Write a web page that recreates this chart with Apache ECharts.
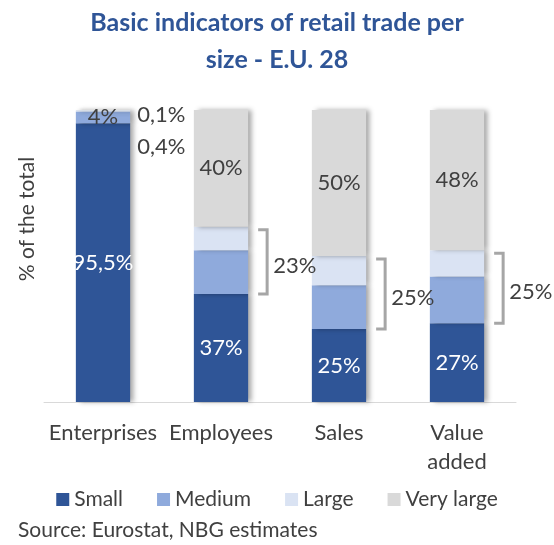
<!DOCTYPE html>
<html>
<head>
<meta charset="utf-8">
<script src="https://cdn.jsdelivr.net/npm/echarts@6/dist/echarts.min.js"></script>
<style>html,body{margin:0;padding:0;background:#fff;}#c{width:554px;height:545px;}</style>
</head>
<body>
<div id="c"></div>
<script>
const categories = ['Enterprises', 'Employees', 'Sales', 'Value\nadded'];
const seriesNames = ['Small', 'Medium', 'Large', 'Very large'];
const small = [95.5, 37, 25, 27];
const medium = [4, 15, 15, 16];
const large = [0.4, 8, 10, 9];
const veryLarge = [0.1, 40, 50, 48];
const bracketCats = [1, 2, 3];

const FONT = 'Lato';
const TXT = '#404040';
const colors = ['#2F5597', '#8FAADC', '#DAE3F3', '#D9D9D9'];
const fmt = v => String(v).replace('.', ',') + '%';

const chart = echarts.init(document.getElementById('c'), null, {renderer: 'canvas'});

const shadow = {shadowColor: 'rgba(0,0,0,0.35)', shadowBlur: 5, shadowOffsetX: 4, shadowOffsetY: 0};
function barSeries(name, data, color, labelFn) {
  return {
    name, type: 'bar', stack: 'total', barWidth: '46%',
    itemStyle: Object.assign({color}, shadow),
    label: {show: false, fontFamily: FONT, fontSize: 22, color: TXT, formatter: p => fmt(p.value)},
    data: data.map(labelFn),
    emphasis: {disabled: true}
  };
}

const option = {
  animation: false,
  textStyle: {fontFamily: FONT},
  title: {
    text: 'Basic indicators of retail trade per\nsize - E.U. 28',
    left: 'center', top: -1,
    textStyle: {fontFamily: FONT, fontWeight: 'bold', fontSize: 25, lineHeight: 37, color: '#2F5597'}
  },
  grid: {left: 44, right: 38, top: 110, bottom: 143, containLabel: false},
  legend: {
    data: seriesNames, left: 'center', top: 484,
    icon: 'rect', itemWidth: 13, itemHeight: 13, itemGap: 34,
    textStyle: {fontFamily: FONT, fontSize: 21, color: TXT}
  },
  xAxis: {
    type: 'category', data: categories,
    axisLine: {lineStyle: {color: '#D9D9D9', width: 1}},
    axisTick: {show: false},
    axisLabel: {interval: 0, fontFamily: FONT, fontSize: 22, color: TXT, lineHeight: 29, margin: 16}
  },
  yAxis: {
    type: 'value', min: 0, max: 100,
    axisLine: {show: false}, axisTick: {show: false}, axisLabel: {show: false}, splitLine: {show: false}
  },
  graphic: [
    {type: 'text', x: 27, y: 219, rotation: Math.PI / 2,
     style: {text: '% of the total', fontFamily: FONT, fontSize: 21, fill: TXT, align: 'center', verticalAlign: 'middle'}},
    {type: 'text', left: 18, top: 520,
     style: {text: 'Source: Eurostat, NBG estimates', fontFamily: FONT, fontSize: 21, fill: TXT}}
  ],
  series: [
    barSeries('Small', small, colors[0], v => ({value: v, label: {show: true, position: 'inside', color: '#FFFFFF'}})),
    barSeries('Medium', medium, colors[1], (v, i) => i === 0 ? {value: v, label: {show: true, position: 'inside'}} : v),
    barSeries('Large', large, colors[2], (v, i) => i === 0 ? {value: v, label: {show: true, position: 'right', distance: 7, offset: [0, 36]}} : v),
    barSeries('Very large', veryLarge, colors[3], (v, i) => i === 0
      ? {value: v, label: {show: true, position: 'right', distance: 7, offset: [0, 5]}}
      : {value: v, label: {show: true, position: 'inside'}}),
    {
      type: 'custom', name: 'bracket', z: 10, silent: true,
      data: bracketCats.map(i => [i, small[i], small[i] + medium[i] + large[i], medium[i] + large[i]]),
      renderItem: function (params, api) {
        const i = api.value(0);
        const top = api.coord([i, api.value(2)]);
        const bot = api.coord([i, api.value(1)]);
        const band = api.size([1, 0])[0];
        const x = top[0] + band * 0.23 + 19;
        const y1 = top[1] + 3, y2 = bot[1];
        return {
          type: 'group',
          children: [
            {type: 'polyline', shape: {points: [[x - 9, y1], [x, y1], [x, y2], [x - 9, y2]]},
             style: {stroke: '#A6A6A6', lineWidth: 3, fill: null}},
            {type: 'text', style: {text: fmt(api.value(3)), x: x + 6, y: (y1 + y2) / 2 + 4,
             verticalAlign: 'middle', align: 'left', fill: TXT, fontSize: 22, fontFamily: FONT}}
          ]
        };
      }
    }
  ]
};
chart.setOption(option);
</script>
</body>
</html>
